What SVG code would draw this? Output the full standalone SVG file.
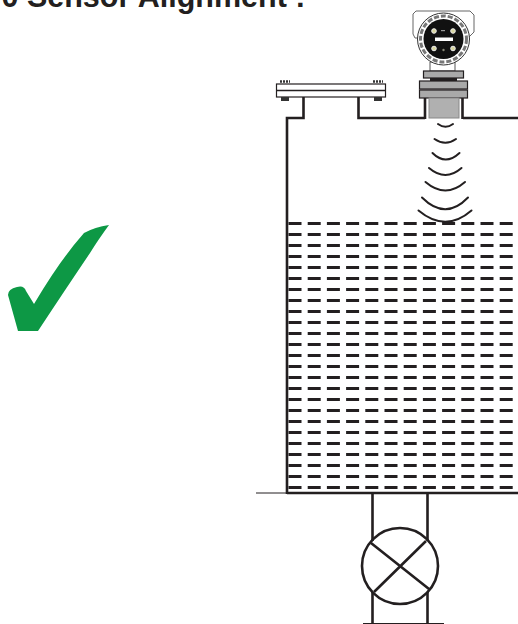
<svg xmlns="http://www.w3.org/2000/svg" width="518" height="624" viewBox="0 0 518 624">
<defs>
<style>
.l{fill:none;stroke:#231f20;stroke-width:2.600}
.t{fill:none;stroke:#231f20;stroke-width:1}
.w{fill:none;stroke:#231f20;stroke-width:2;stroke-linecap:round}
.d{fill:none;stroke:#231f20;stroke-width:2.800;stroke-dasharray:13 6.200}
.g{fill:#a9a9a9;stroke:#231f20;stroke-width:1.200}
.s{fill:#fff;stroke:#555;stroke-width:1}
.b{fill:#d8d6a0;stroke:#eee;stroke-width:1}
text{font-family:"Liberation Sans",Arial,sans-serif;font-weight:700;font-size:30.500px;fill:#231f20}
</style>
<filter id="blur" x="-10%" y="-10%" width="120%" height="120%"><feGaussianBlur stdDeviation="0.7"/></filter>
</defs>
<text x="1.500" y="7">0 Sensor Alignment :</text>
<g id="check"><path d="M8 295Q8 289 17 287Q24 285 26 291L34 304Q60 260 84 233Q95 227 109 225Q98 240 90 253Q65 290 38 331L18 331Z" fill="#0a9844" filter="url(#blur)"/></g>
<g id="tank">
<path class="l" d="M287 494V118H303.500V96M358.500 96V118H425M463 118H518M287 493H518"/>
<path class="t" d="M256 493H287M363 623.500H444"/>
</g>
<g id="flange">
<rect x="276.500" y="84" width="109" height="13" fill="#fff" stroke="#231f20" stroke-width="1.200"/>
<path d="M277 90.500H385" stroke="#231f20" stroke-width="1.500"/>
<path d="M280 81.500H290M373 81.500H383" stroke="#333" stroke-width="2.500" stroke-dasharray="2 1"/>
<path d="M281 99H289M374 99H382" stroke="#333" stroke-width="4"/>
</g>
<g id="sensor">
<path d="M413 14L416 11H470L474 15V32L468 38H415L413 34Z" fill="#fff" stroke="#666" stroke-width="1"/>
<path d="M430 62H455V71H430Z" class="s"/>
<circle cx="443.500" cy="39" r="26" fill="#fff" stroke="#333" stroke-width="1"/>
<circle cx="443.500" cy="39" r="23" fill="none" stroke="#777" stroke-width="3" stroke-dasharray="5 2"/>
<circle cx="443.500" cy="39" r="20" fill="#111"/>
<rect x="435" y="37.500" width="18" height="3.500" fill="#fff"/>
<rect x="441" y="30" width="4" height="1.200" fill="#999"/>
<circle class="b" cx="434" cy="31" r="2.300"/><circle class="b" cx="453" cy="31" r="2.300"/><circle class="b" cx="434" cy="48.500" r="2.300"/><circle class="b" cx="453" cy="48.500" r="2.300"/>
<circle cx="443.500" cy="50" r="1.200" fill="#887"/>
<rect x="423.500" y="71" width="40" height="7" class="g"/>
<rect x="430" y="78" width="27" height="3.500" fill="#231f20"/>
<rect x="419.500" y="81" width="48" height="8" class="g"/>
<rect x="419.500" y="90" width="48" height="8" class="g"/>
<rect x="429" y="98" width="30" height="20" fill="#b0b0b0" stroke="#888" stroke-width="1"/>
<path d="M425 98V119M462.500 98V119" stroke="#231f20" stroke-width="2.600"/>
</g>
<g id="waves">
<path class="w" d="M438 124Q445.500 129.500 453 124"/>
<path class="w" d="M434.500 139Q445.500 146.500 456 139"/>
<path class="w" d="M432.500 153Q445.500 166 459.500 153"/>
<path class="w" d="M429 168Q445.500 182 461.500 168"/>
<path class="w" d="M425.500 182Q445.500 199 465 182"/>
<path class="w" d="M422 197.500Q445.500 221 468 197.500"/>
<path class="w" d="M418.500 210.500Q445.500 233 471.500 210.500"/>
</g>
<g id="liquid">
<path class="d" d="M288.500 223.500H513M288.500 234.500H513M288.500 245.500H513M288.500 256.500H513M288.500 267.500H513M288.500 278.500H513M288.500 289.500H513M288.500 300.500H513M288.500 311.500H513M288.500 322.500H513M288.500 333.500H513M288.500 344.500H513M288.500 355.500H513M288.500 366.500H513M288.500 377.500H513M288.500 388.500H513M288.500 399.500H513M288.500 410.500H513M288.500 421.500H513M288.500 432.500H513M288.500 443.500H513M288.500 454.500H513M288.500 465.500H513M288.500 476.500H513M288.500 487.500H513"/>
</g>
<g id="valve">
<path class="l" d="M372.500 493V541M427.500 493V541M372.500 592V624M427.500 592V624"/>
<circle cx="400" cy="566" r="38" fill="none" stroke="#231f20" stroke-width="2.600"/>
<path class="l" d="M371 543L429 589M426 541L374 592"/>
</g>
</svg>
